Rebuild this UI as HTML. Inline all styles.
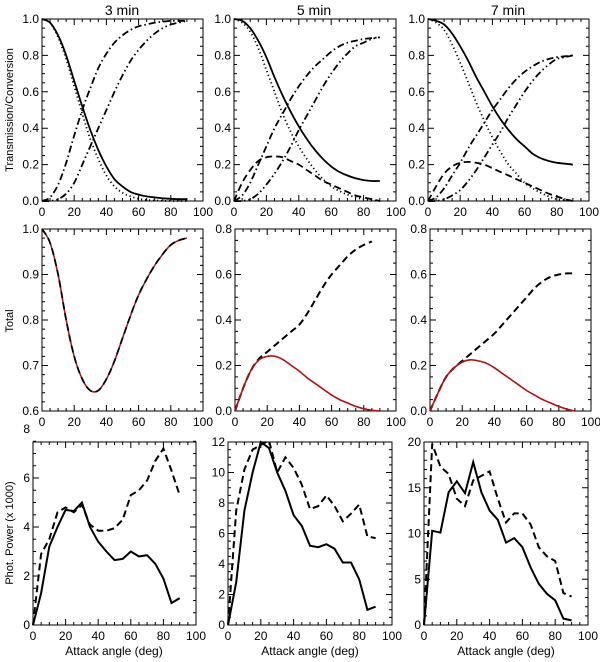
<!DOCTYPE html>
<html><head><meta charset="utf-8">
<style>
html,body{margin:0;padding:0;background:#fff;}
svg{display:block;font-family:"Liberation Sans",sans-serif;}
</style></head>
<body>
<svg id="fig" width="600" height="662" viewBox="0 0 600 662">
<text x="122" y="15" font-size="14" text-anchor="middle">3 min</text>
<text x="314" y="15" font-size="14" text-anchor="middle">5 min</text>
<text x="508" y="15" font-size="14" text-anchor="middle">7 min</text>
<text transform="translate(13,110) rotate(-90)" font-size="11" text-anchor="middle">Transmission/Conversion</text>
<text transform="translate(13,321) rotate(-90)" font-size="11" text-anchor="middle">Total</text>
<text transform="translate(13,533) rotate(-90)" font-size="11" text-anchor="middle">Phot. Power (x 1000)</text>
</svg>
<script>
const angles=[0,5,10,15,20,25,30,35,40,45,50,55,60,65,70,75,80,85,90];
// Row 1
const t3Solid=[1,0.98,0.91,0.8,0.66,0.52,0.39,0.28,0.19,0.12,0.08,0.05,0.035,0.025,0.02,0.015,0.012,0.01,0.01];
const t3Dot=[1,0.98,0.9,0.78,0.63,0.48,0.34,0.23,0.14,0.08,0.045,0.025,0.012,0.006,0.003,0.001,0,0,0];
const t3DashDot=[0,0.02,0.09,0.21,0.36,0.5,0.62,0.73,0.81,0.87,0.91,0.94,0.96,0.97,0.98,0.985,0.99,0.99,0.99];
const t3DashDotDot=[0,0,0.01,0.04,0.1,0.2,0.3,0.4,0.5,0.6,0.69,0.77,0.83,0.88,0.92,0.95,0.97,0.98,0.99];
const t5Solid=[1,0.99,0.95,0.88,0.79,0.68,0.58,0.49,0.41,0.34,0.28,0.23,0.19,0.16,0.14,0.125,0.115,0.11,0.11];
const t5Dot=[1,0.98,0.93,0.84,0.72,0.6,0.48,0.38,0.3,0.23,0.17,0.12,0.08,0.055,0.035,0.02,0.01,0.005,0];
const t5Dash=[0,0.1,0.17,0.22,0.24,0.245,0.24,0.22,0.2,0.17,0.14,0.11,0.09,0.07,0.05,0.03,0.02,0.01,0];
const t5DashDot=[0,0.03,0.1,0.2,0.3,0.4,0.48,0.56,0.63,0.69,0.74,0.78,0.82,0.85,0.87,0.88,0.89,0.895,0.9];
const t5DashDotDot=[0,0,0.01,0.04,0.09,0.15,0.22,0.3,0.39,0.47,0.55,0.63,0.7,0.76,0.81,0.85,0.87,0.89,0.9];
const t7Solid=[1,0.99,0.97,0.92,0.85,0.77,0.68,0.6,0.52,0.45,0.39,0.34,0.3,0.26,0.235,0.22,0.21,0.205,0.2];
const t7Dot=[1,0.98,0.94,0.86,0.76,0.65,0.54,0.44,0.35,0.27,0.2,0.15,0.1,0.07,0.045,0.025,0.01,0.005,0];
const t7Dash=[0,0.08,0.15,0.19,0.21,0.215,0.21,0.2,0.18,0.16,0.14,0.12,0.1,0.08,0.06,0.04,0.025,0.01,0];
const t7DashDot=[0,0.02,0.07,0.14,0.21,0.29,0.36,0.43,0.5,0.56,0.62,0.67,0.71,0.74,0.765,0.78,0.79,0.795,0.8];
const t7DashDotDot=[0,0,0.01,0.03,0.06,0.11,0.17,0.24,0.31,0.38,0.46,0.53,0.6,0.66,0.71,0.75,0.78,0.79,0.8];
// Row 2
const tot3=[1,0.97,0.9,0.8,0.72,0.67,0.645,0.645,0.67,0.71,0.76,0.81,0.855,0.89,0.92,0.945,0.965,0.975,0.98];
const tot5Red=[0,0.1,0.18,0.225,0.24,0.24,0.225,0.2,0.175,0.145,0.12,0.095,0.07,0.05,0.035,0.02,0.01,0.003,0];
const tot5Dash=[0,0.1,0.18,0.23,0.26,0.29,0.32,0.35,0.38,0.43,0.49,0.55,0.6,0.64,0.68,0.71,0.73,0.745];
const tot7Red=[0,0.08,0.15,0.19,0.215,0.225,0.22,0.21,0.19,0.165,0.14,0.115,0.09,0.07,0.05,0.035,0.02,0.008,0];
const tot7Dash=[0,0.08,0.15,0.19,0.22,0.25,0.28,0.31,0.34,0.38,0.42,0.46,0.5,0.54,0.57,0.59,0.6,0.605,0.605];
// Row 3
const p3Solid=[0,1.3,3.2,4.0,4.7,4.65,5.0,4.0,3.4,3.0,2.65,2.7,3.0,2.8,2.85,2.5,1.9,0.9,1.1];
const p3Dash=[0,2.9,3.5,4.6,4.8,4.6,4.9,4.1,3.85,3.85,3.95,4.3,5.3,5.5,5.9,6.7,7.2,6.3,5.3];
const p5Solid=[0,2.8,7.5,10,12,11.6,10,8.8,7.2,6.5,5.2,5.1,5.3,5.0,4.1,4.1,3.0,1.0,1.2];
const p5Dash=[0,7.5,10.2,11.5,11.8,12.1,10,11,10.3,9.2,7.6,7.8,8.5,7.8,6.8,7.3,7.9,5.8,5.7];
const p7Solid=[0,10.3,10.1,14.5,15.7,14.4,17.8,14.5,12.5,11.5,9,9.5,8.5,6.3,4.5,3.4,2.7,0.7,0.5];
const p7Dash=[0,19.8,17.3,16.5,13.8,13,15.8,16.3,16.8,13.8,11.2,12.2,12.2,11,8.5,7.5,7,3.5,3.1];

const NS='http://www.w3.org/2000/svg';
const svg=document.getElementById('fig');
function mk(tag,attrs,parent){const e=document.createElementNS(NS,tag);for(const k in attrs)e.setAttribute(k,attrs[k]);(parent||svg).appendChild(e);return e;}
const DASH={solid:'',dot:'1.2,2.8',dash:'7,4',dashdot:'7,3,1.5,3',dashdotdot:'7,3,1.5,3,1.5,3'};

function smoothPath(P){
  let d='M'+P[0][0].toFixed(1)+','+P[0][1].toFixed(1);
  for(let i=0;i<P.length-1;i++){
    const p0=P[Math.max(0,i-1)],p1=P[i],p2=P[i+1],p3=P[Math.min(P.length-1,i+2)];
    const c1=[p1[0]+(p2[0]-p0[0])/6,p1[1]+(p2[1]-p0[1])/6];
    const c2=[p2[0]-(p3[0]-p1[0])/6,p2[1]-(p3[1]-p1[1])/6];
    d+=`C${c1[0].toFixed(1)},${c1[1].toFixed(1)} ${c2[0].toFixed(1)},${c2[1].toFixed(1)} ${p2[0].toFixed(1)},${p2[1].toFixed(1)}`;
  }
  return d;
}

function panel(name,x0,y0,x1,y1,ymin,ymax,ymaj,yminor,ydec,smooth,series){
  const g=mk('g',{});
  
  
  const sx=v=>x0+(v/100)*(x1-x0);
  const sy=v=>y1-(v-ymin)/(ymax-ymin)*(y1-y0);
  const fr=mk('rect',{x:x0,y:y0,width:x1-x0,height:y1-y0,fill:'none',stroke:'#000','stroke-width':1},g);
  
  
  let d='';
  for(let v=0;v<=100;v+=5){const X=sx(v),L=(v%20===0)?6:3;d+=`M${X},${y1}v${-L}M${X},${y0}v${L}`;}
  const nmin=Math.round((ymax-ymin)/yminor);
  for(let i=0;i<=nmin;i++){const v=ymin+i*yminor,Y=sy(v);const maj=Math.abs(((v-ymin)/ymaj)-Math.round((v-ymin)/ymaj))<1e-6;const L=maj?6:3;d+=`M${x0},${Y}h${L}M${x1},${Y}h${-L}`;}
  const tk=mk('path',{d:d,stroke:'#000','stroke-width':1,fill:'none'},g);
  
  
  for(let v=0;v<=100;v+=20){const t=mk('text',{x:sx(v),y:y1+15,'font-size':12,'text-anchor':'middle'},g);t.textContent=v;
    
    }
  const nmaj=Math.round((ymax-ymin)/ymaj+1e-6);
  for(let i=0;i<=nmaj;i++){const v=ymin+i*ymaj;const t=mk('text',{x:x0-3,y:sy(v)+4,'font-size':12,'text-anchor':'end'},g);t.textContent=v.toFixed(ydec);
    
    }
  series.forEach(s=>{
    const P=s.data.map((v,i)=>[sx(angles[i]),sy(v)]);
    let pd;
    if(smooth){pd=smoothPath(P);}else{pd='';P.forEach((p,i)=>{pd+=(i?'L':'M')+p[0].toFixed(1)+','+p[1].toFixed(1);});}
    const p=mk('path',{d:pd,fill:'none',stroke:s.color||'#000','stroke-width':s.w||1.8,'stroke-dasharray':DASH[s.style]},g);
    
    
  });
  return g;
}
panel('panel-transmission-3min',42,19,203,201,0,1,0.2,0.05,1,true,[
 {name:'solid-line',data:t3Solid,style:'solid'},{name:'dotted-line',data:t3Dot,style:'dot'},
 {name:'dash-dot-line',data:t3DashDot,style:'dashdot'},{name:'dash-dot-dot-line',data:t3DashDotDot,style:'dashdotdot'}]);
panel('panel-transmission-5min',234,19,396,201,0,1,0.2,0.05,1,true,[
 {name:'solid-line',data:t5Solid,style:'solid'},{name:'dotted-line',data:t5Dot,style:'dot'},{name:'dashed-line',data:t5Dash,style:'dash'},
 {name:'dash-dot-line',data:t5DashDot,style:'dashdot'},{name:'dash-dot-dot-line',data:t5DashDotDot,style:'dashdotdot'}]);
panel('panel-transmission-7min',428,19,589,201,0,1,0.2,0.05,1,true,[
 {name:'solid-line',data:t7Solid,style:'solid'},{name:'dotted-line',data:t7Dot,style:'dot'},{name:'dashed-line',data:t7Dash,style:'dash'},
 {name:'dash-dot-line',data:t7DashDot,style:'dashdot'},{name:'dash-dot-dot-line',data:t7DashDotDot,style:'dashdotdot'}]);
panel('panel-total-3min',42,229,203,411,0.6,1.0,0.1,0.02,1,true,[
 {name:'total-red-line',data:tot3,style:'solid',color:'#b01010',w:1.5},{name:'total-dashed-line',data:tot3,style:'dash',w:1.8}]);
panel('panel-total-5min',235,229,396,411,0,0.8,0.2,0.05,1,true,[
 {name:'total-dashed-line',data:tot5Dash,style:'dash',w:2},{name:'total-red-line',data:tot5Red,style:'solid',color:'#b01010',w:1.6}]);
panel('panel-total-7min',430,229,591,411,0,0.8,0.2,0.05,1,true,[
 {name:'total-dashed-line',data:tot7Dash,style:'dash',w:2},{name:'total-red-line',data:tot7Red,style:'solid',color:'#b01010',w:1.6}]);
panel('panel-power-3min',33,442,196,625,0,7.47,2,0.5,0,false,[
 {name:'power-solid-line',data:p3Solid,style:'solid',w:2},{name:'power-dashed-line',data:p3Dash,style:'dash',w:2}]);
panel('panel-power-5min',228,442,392,625,0,12,2,0.5,0,false,[
 {name:'power-solid-line',data:p5Solid,style:'solid',w:2},{name:'power-dashed-line',data:p5Dash,style:'dash',w:2}]);
panel('panel-power-7min',424,442,588,625,0,20,5,1,0,false,[
 {name:'power-solid-line',data:p7Solid,style:'solid',w:2},{name:'power-dashed-line',data:p7Dash,style:'dash',w:2}]);
[[114,'x-axis-title-3min'],[310,'x-axis-title-5min'],[506,'x-axis-title-7min']].forEach(a=>{
  const t=mk('text',{x:a[0],y:655,'font-size':12,'text-anchor':'middle'});t.textContent='Attack angle (deg)';
  
  
});
</script>
</body></html>
